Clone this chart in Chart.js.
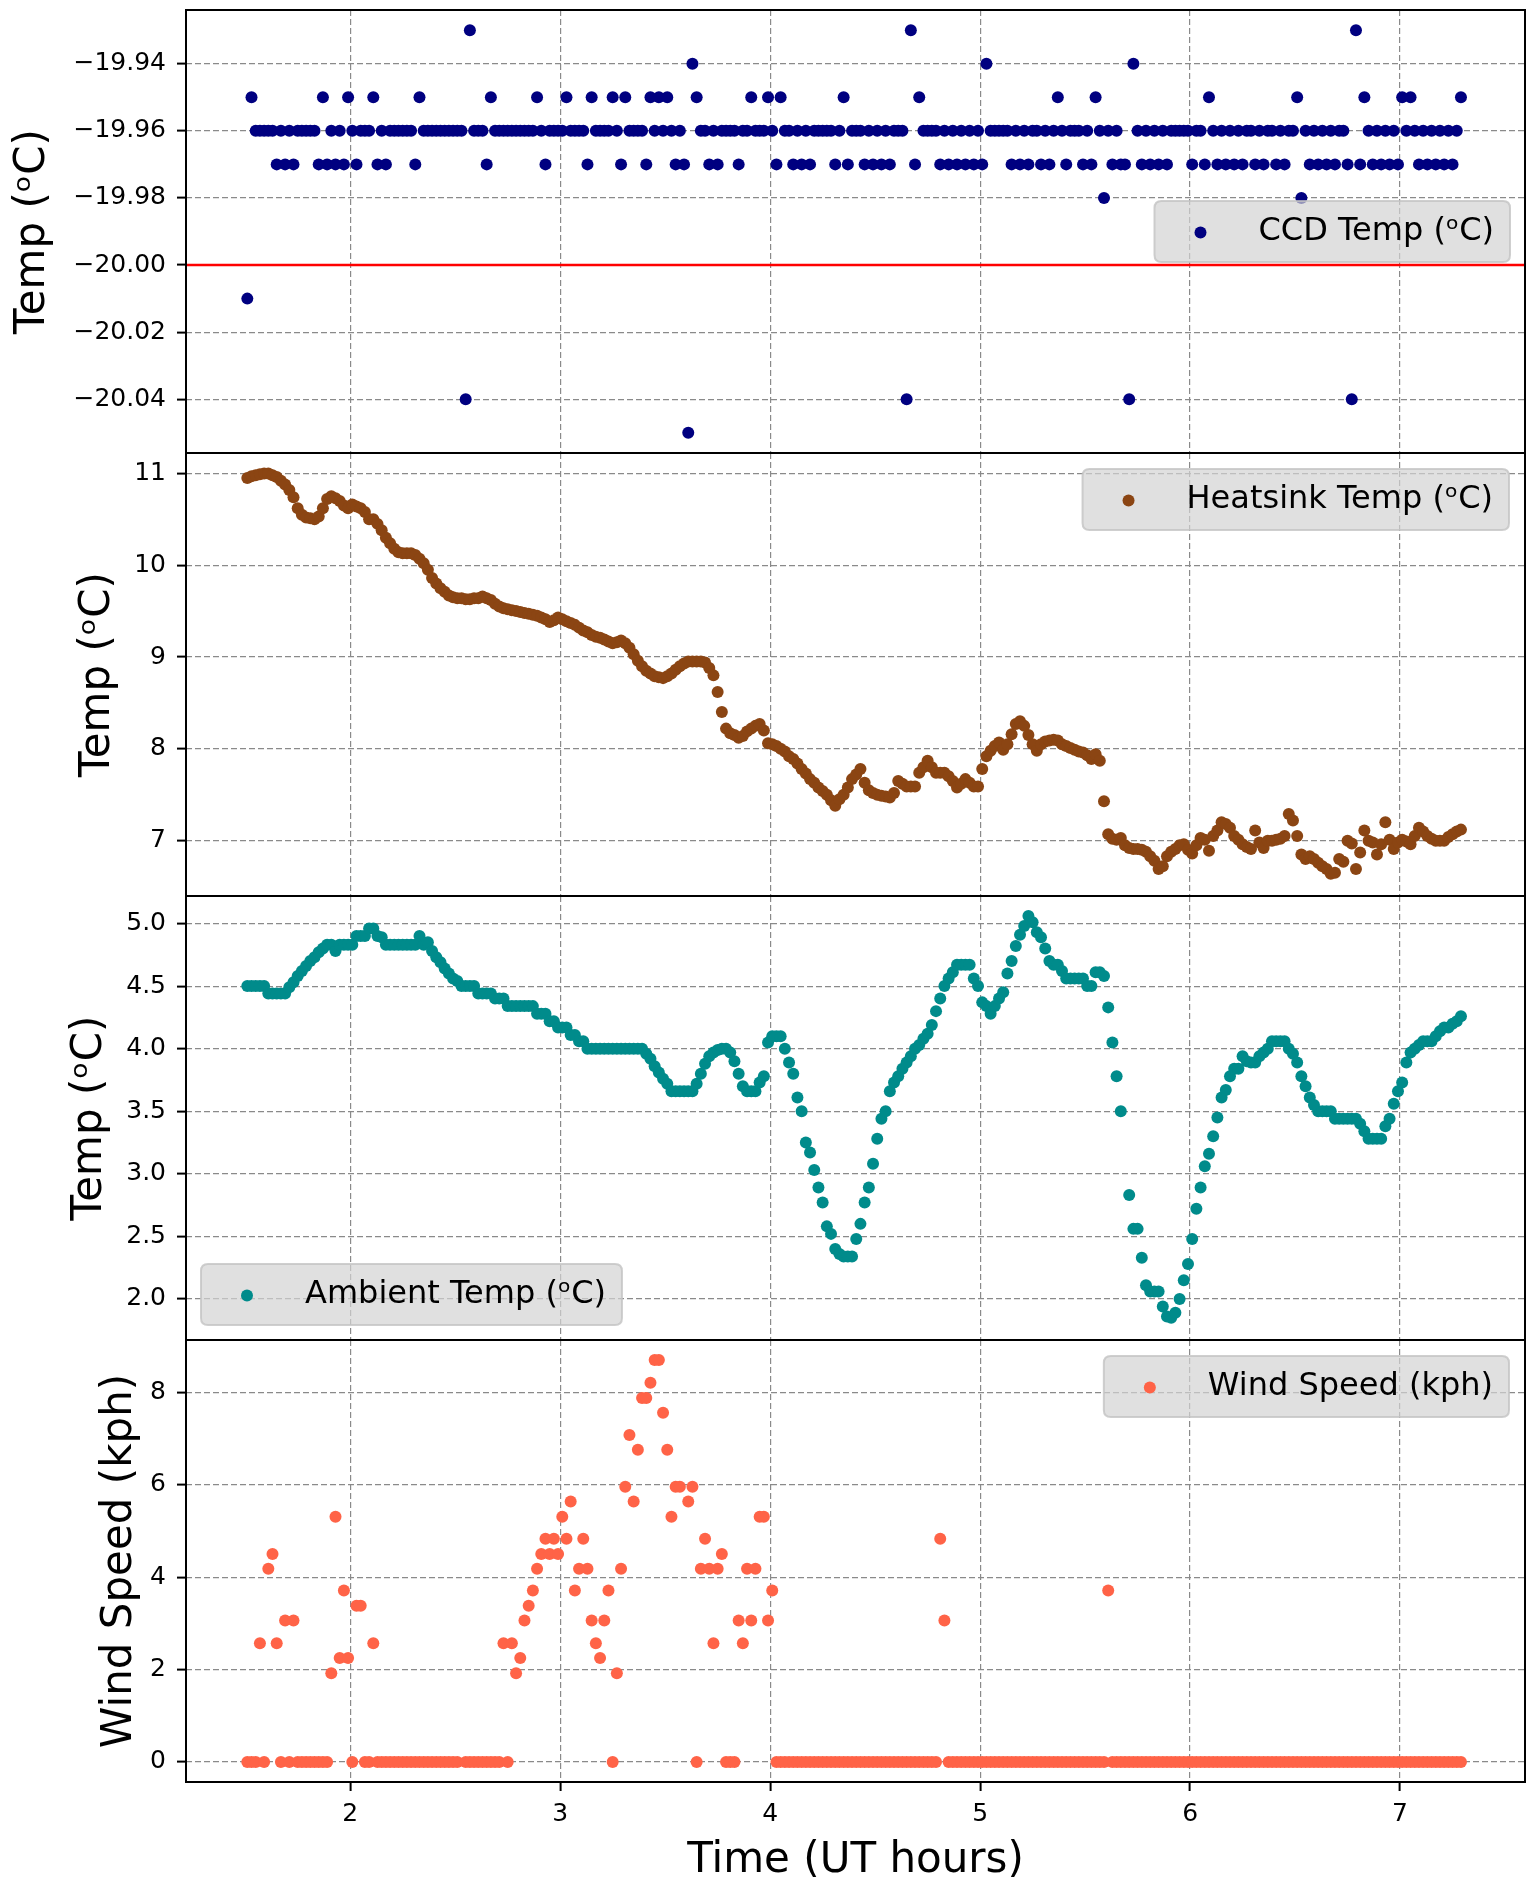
<!DOCTYPE html>
<html><head><meta charset="utf-8">
<script src="https://cdn.jsdelivr.net/npm/chart.js@4.4.1/dist/chart.umd.min.js"></script>
<style>
html,body{margin:0;padding:0;background:#fff;}
#wrap{position:relative;width:1534px;height:1881px;overflow:hidden;background:#fff;}
#wrap canvas{position:absolute;left:0;}
</style></head><body>
<div id="wrap">
<canvas id="c1" width="1534" height="453" style="top:0px"></canvas>
<canvas id="c2" width="1534" height="443" style="top:453px"></canvas>
<canvas id="c3" width="1534" height="444" style="top:896px"></canvas>
<canvas id="c4" width="1534" height="541" style="top:1340px"></canvas>
</div>
<script>
// ---- data (time in UT hours) ----
const times = [
1.51,1.53,1.55,1.57,1.59,1.61,1.63,1.65,1.67,1.69,
1.71,1.73,1.75,1.77,1.79,1.81,1.83,1.85,1.87,1.89,
1.91,1.93,1.95,1.97,1.99,2.01,2.03,2.05,2.07,2.09,
2.11,2.13,2.15,2.17,2.19,2.21,2.23,2.25,2.27,2.29,
2.31,2.33,2.35,2.37,2.39,2.41,2.43,2.45,2.47,2.49,
2.51,2.53,2.55,2.57,2.59,2.61,2.63,2.65,2.67,2.69,
2.71,2.73,2.75,2.77,2.79,2.81,2.83,2.85,2.87,2.89,
2.91,2.93,2.95,2.97,2.99,3.01,3.03,3.05,3.07,3.09,
3.11,3.13,3.15,3.17,3.19,3.21,3.23,3.25,3.27,3.29,
3.31,3.33,3.35,3.37,3.39,3.41,3.43,3.45,3.47,3.49,
3.51,3.53,3.55,3.57,3.59,3.61,3.63,3.65,3.67,3.69,
3.71,3.73,3.75,3.77,3.79,3.81,3.83,3.85,3.87,3.89,
3.91,3.93,3.95,3.97,3.99,4.01,4.03,4.05,4.07,4.09,
4.11,4.13,4.15,4.17,4.19,4.21,4.23,4.25,4.27,4.29,
4.31,4.33,4.35,4.37,4.39,4.41,4.43,4.45,4.47,4.49,
4.51,4.53,4.55,4.57,4.59,4.61,4.63,4.65,4.67,4.69,
4.71,4.73,4.75,4.77,4.79,4.81,4.83,4.85,4.87,4.89,
4.91,4.93,4.95,4.97,4.99,5.01,5.03,5.05,5.07,5.09,
5.11,5.13,5.15,5.17,5.19,5.21,5.23,5.25,5.27,5.29,
5.31,5.33,5.35,5.37,5.39,5.41,5.43,5.45,5.47,5.49,
5.51,5.53,5.55,5.57,5.59,5.61,5.63,5.65,5.67,5.69,
5.71,5.73,5.75,5.77,5.79,5.81,5.83,5.85,5.87,5.89,
5.91,5.93,5.95,5.97,5.99,6.01,6.03,6.05,6.07,6.09,
6.11,6.13,6.15,6.17,6.19,6.21,6.23,6.25,6.27,6.29,
6.31,6.33,6.35,6.37,6.39,6.41,6.43,6.45,6.47,6.49,
6.51,6.53,6.55,6.57,6.59,6.61,6.63,6.65,6.67,6.69,
6.71,6.73,6.75,6.77,6.79,6.81,6.83,6.85,6.87,6.89,
6.91,6.93,6.95,6.97,6.99,7.01,7.03,7.05,7.07,7.09,
7.11,7.13,7.15,7.17,7.19,7.21,7.23,7.25,7.27,7.29
];

const ccdTemp = [
-20.01,-19.95,-19.96,-19.96,-19.96,-19.96,-19.96,-19.97,-19.96,-19.97,
-19.96,-19.97,-19.96,-19.96,-19.96,-19.96,-19.96,-19.97,-19.95,-19.97,
-19.96,-19.97,-19.96,-19.97,-19.95,-19.96,-19.97,-19.96,-19.96,-19.96,
-19.95,-19.97,-19.96,-19.97,-19.96,-19.96,-19.96,-19.96,-19.96,-19.96,
-19.97,-19.95,-19.96,-19.96,-19.96,-19.96,-19.96,-19.96,-19.96,-19.96,
-19.96,-19.96,-20.04,-19.93,-19.96,-19.96,-19.96,-19.97,-19.95,-19.96,
-19.96,-19.96,-19.96,-19.96,-19.96,-19.96,-19.96,-19.96,-19.96,-19.95,
-19.96,-19.97,-19.96,-19.96,-19.96,-19.96,-19.95,-19.96,-19.96,-19.96,
-19.96,-19.97,-19.95,-19.96,-19.96,-19.96,-19.96,-19.95,-19.96,-19.97,
-19.95,-19.96,-19.96,-19.96,-19.96,-19.97,-19.95,-19.96,-19.95,-19.96,
-19.95,-19.96,-19.97,-19.96,-19.97,-20.05,-19.94,-19.95,-19.96,-19.96,
-19.97,-19.96,-19.97,-19.96,-19.96,-19.96,-19.96,-19.97,-19.96,-19.96,
-19.95,-19.96,-19.96,-19.96,-19.95,-19.96,-19.97,-19.95,-19.96,-19.96,
-19.97,-19.96,-19.97,-19.96,-19.97,-19.96,-19.96,-19.96,-19.96,-19.96,
-19.97,-19.96,-19.95,-19.97,-19.96,-19.96,-19.96,-19.97,-19.96,-19.97,
-19.96,-19.97,-19.96,-19.97,-19.96,-19.96,-19.96,-20.04,-19.93,-19.97,
-19.95,-19.96,-19.96,-19.96,-19.96,-19.97,-19.96,-19.97,-19.96,-19.97,
-19.96,-19.97,-19.96,-19.97,-19.96,-19.97,-19.94,-19.96,-19.96,-19.96,
-19.96,-19.96,-19.97,-19.96,-19.97,-19.96,-19.97,-19.96,-19.96,-19.97,
-19.96,-19.97,-19.96,-19.95,-19.96,-19.97,-19.96,-19.96,-19.96,-19.97,
-19.96,-19.97,-19.95,-19.96,-19.98,-19.96,-19.97,-19.96,-19.97,-19.97,
-20.04,-19.94,-19.96,-19.97,-19.96,-19.97,-19.96,-19.97,-19.96,-19.97,
-19.96,-19.96,-19.96,-19.96,-19.96,-19.97,-19.96,-19.96,-19.97,-19.95,
-19.96,-19.97,-19.96,-19.97,-19.96,-19.97,-19.96,-19.97,-19.96,-19.96,
-19.97,-19.96,-19.97,-19.96,-19.96,-19.97,-19.96,-19.97,-19.96,-19.96,
-19.95,-19.98,-19.96,-19.97,-19.96,-19.97,-19.96,-19.97,-19.96,-19.97,
-19.96,-19.96,-19.97,-20.04,-19.93,-19.97,-19.95,-19.96,-19.97,-19.96,
-19.97,-19.96,-19.97,-19.96,-19.97,-19.95,-19.96,-19.95,-19.96,-19.97,
-19.96,-19.97,-19.96,-19.97,-19.96,-19.97,-19.96,-19.97,-19.96,-19.95
];

const heatsinkTemp = [
10.95,10.97,10.98,10.99,11.00,11.00,10.98,10.96,10.92,10.88,
10.82,10.74,10.62,10.55,10.52,10.51,10.50,10.53,10.62,10.72,
10.75,10.73,10.70,10.65,10.62,10.66,10.64,10.62,10.58,10.50,
10.50,10.45,10.38,10.30,10.24,10.18,10.14,10.13,10.13,10.13,
10.11,10.07,10.02,9.95,9.86,9.80,9.75,9.71,9.67,9.65,
9.64,9.64,9.63,9.63,9.64,9.64,9.66,9.64,9.62,9.58,
9.55,9.53,9.52,9.51,9.50,9.49,9.48,9.47,9.46,9.45,
9.43,9.41,9.38,9.40,9.43,9.41,9.39,9.37,9.35,9.32,
9.29,9.27,9.24,9.22,9.21,9.19,9.17,9.15,9.16,9.18,
9.15,9.10,9.03,8.96,8.90,8.85,8.82,8.79,8.78,8.77,
8.79,8.82,8.86,8.90,8.93,8.95,8.95,8.95,8.95,8.94,
8.88,8.80,8.62,8.40,8.22,8.17,8.15,8.12,8.14,8.19,
8.22,8.25,8.27,8.20,8.06,8.05,8.03,8.00,7.97,7.92,
7.89,7.84,7.78,7.73,7.67,7.63,7.58,7.54,7.50,7.44,
7.38,7.45,7.50,7.58,7.67,7.72,7.78,7.63,7.55,7.52,
7.50,7.49,7.48,7.47,7.52,7.65,7.62,7.59,7.59,7.59,
7.74,7.80,7.87,7.80,7.74,7.74,7.74,7.70,7.65,7.58,
7.62,7.67,7.63,7.59,7.59,7.78,7.92,7.98,8.03,8.07,
7.99,8.05,8.16,8.27,8.30,8.25,8.15,8.05,7.98,8.05,
8.08,8.09,8.10,8.09,8.05,8.03,8.01,7.99,7.97,7.96,
7.93,7.89,7.94,7.87,7.43,7.07,7.02,7.01,7.03,6.95,
6.92,6.91,6.91,6.90,6.88,6.83,6.78,6.69,6.72,6.83,
6.88,6.91,6.95,6.96,6.90,6.86,6.95,7.03,7.01,6.89,
7.05,7.11,7.20,7.18,7.14,7.05,7.01,6.96,6.93,6.91,
7.11,6.98,6.92,7.00,7.00,7.01,7.02,7.05,7.29,7.22,
7.05,6.85,6.80,6.83,6.80,6.76,6.72,6.69,6.64,6.65,
6.80,6.77,7.00,6.97,6.69,6.87,7.11,7.00,6.98,6.85,
6.96,7.20,7.01,6.91,6.98,7.01,6.99,6.96,7.05,7.14,
7.10,7.05,7.02,7.00,7.00,7.00,7.04,7.07,7.10,7.12
];

const ambientTemp = [
4.50,4.50,4.50,4.50,4.50,4.44,4.44,4.44,4.44,4.44,
4.49,4.53,4.58,4.62,4.66,4.70,4.73,4.77,4.80,4.83,
4.83,4.78,4.83,4.83,4.83,4.83,4.90,4.90,4.90,4.96,
4.96,4.90,4.89,4.83,4.83,4.83,4.83,4.83,4.83,4.83,
4.83,4.90,4.83,4.85,4.78,4.73,4.69,4.64,4.60,4.56,
4.54,4.50,4.50,4.50,4.50,4.44,4.44,4.44,4.44,4.40,
4.40,4.40,4.34,4.34,4.34,4.34,4.34,4.34,4.34,4.28,
4.28,4.28,4.22,4.22,4.17,4.17,4.17,4.11,4.11,4.06,
4.06,4.00,4.00,4.00,4.00,4.00,4.00,4.00,4.00,4.00,
4.00,4.00,4.00,4.00,4.00,3.96,3.92,3.86,3.81,3.76,
3.72,3.66,3.66,3.66,3.66,3.66,3.66,3.72,3.80,3.88,
3.94,3.97,3.99,4.00,4.00,3.97,3.90,3.80,3.70,3.66,
3.66,3.66,3.73,3.78,4.05,4.10,4.10,4.10,4.00,3.89,
3.80,3.61,3.50,3.25,3.17,3.03,2.89,2.77,2.58,2.52,
2.40,2.36,2.34,2.34,2.34,2.48,2.60,2.77,2.89,3.08,
3.28,3.44,3.50,3.66,3.73,3.78,3.84,3.89,3.94,4.00,
4.03,4.08,4.12,4.19,4.30,4.40,4.50,4.56,4.61,4.67,
4.67,4.67,4.67,4.56,4.50,4.37,4.34,4.28,4.34,4.40,
4.45,4.60,4.70,4.82,4.91,4.98,5.06,5.01,4.93,4.89,
4.80,4.70,4.67,4.67,4.62,4.56,4.56,4.56,4.56,4.56,
4.50,4.50,4.61,4.61,4.58,4.33,4.05,3.78,3.50,null,
2.83,2.56,2.56,2.33,2.11,2.06,2.06,2.06,1.94,1.86,
1.85,1.89,2.00,2.15,2.28,2.48,2.72,2.89,3.06,3.16,
3.30,3.45,3.61,3.67,3.78,3.84,3.84,3.94,3.90,3.89,
3.89,3.94,3.97,4.00,4.06,4.06,4.06,4.06,4.00,3.96,
3.89,3.78,3.70,3.61,3.55,3.50,3.50,3.50,3.50,3.44,
3.44,3.44,3.44,3.44,3.44,3.40,3.34,3.28,3.28,3.28,
3.28,3.38,3.44,3.56,3.66,3.73,3.89,3.97,4.00,4.03,
4.06,4.06,4.06,4.10,4.14,4.17,4.17,4.20,4.22,4.26
];

const windSpeed = [
0,0,0,2.57,0,4.18,4.50,2.57,0,3.06,
0,3.06,0,0,0,0,0,0,0,0,
1.92,5.31,2.25,3.71,2.25,0,3.38,3.38,0,0,
2.57,0,0,0,0,0,0,0,0,0,
0,0,0,0,0,0,0,0,0,0,
0,null,0,0,0,0,0,0,0,0,
0,2.57,0,2.57,1.92,2.25,3.06,3.38,3.71,4.18,
4.50,4.83,4.50,4.83,4.50,5.31,4.83,5.64,3.71,4.18,
4.83,4.18,3.06,2.57,2.25,3.06,3.71,0,1.92,4.18,
5.96,7.08,5.64,6.76,7.88,7.88,8.21,8.70,8.70,7.56,
6.76,5.31,5.96,5.96,null,5.64,5.96,0,4.18,4.83,
4.18,2.57,4.18,4.50,0,0,0,3.06,2.57,4.18,
3.06,4.18,5.31,5.31,3.06,3.71,0,0,0,0,
0,0,0,0,0,0,0,0,0,0,
0,0,0,0,0,0,0,0,0,0,
0,0,0,0,0,0,0,0,0,0,
0,0,0,0,0,4.83,3.06,0,0,0,
0,0,0,0,0,0,0,0,0,0,
0,0,0,0,0,0,0,0,0,0,
0,0,0,0,0,0,0,0,0,0,
0,0,0,0,0,3.71,0,0,0,0,
0,0,0,0,0,0,0,0,0,0,
0,0,0,0,0,0,0,0,0,0,
0,0,0,0,0,0,0,0,0,0,
0,0,0,0,0,0,0,0,0,0,
0,0,0,0,0,0,0,0,0,0,
0,0,0,0,0,0,0,0,0,0,
0,0,0,0,0,0,0,0,0,0,
0,0,0,0,0,0,0,0,0,0
];

const ccdSetpoint = -20.00;
const xTicks = [2, 3, 4, 5, 6, 7];
const ccdTicks = [-20.04, -20.02, -20.00, -19.98, -19.96, -19.94];
const heatsinkTicks = [7, 8, 9, 10, 11];
const ambientTicks = [2.0, 2.5, 3.0, 3.5, 4.0, 4.5, 5.0];
const windTicks = [0, 2, 4, 6, 8];

const FONT = "'DejaVu Sans', 'Noto Sans', sans-serif";
const GRID = '#8a8a8a';

const framePlugin = {
  id: 'frame',
  beforeDatasetsDraw(chart, args, opts) {
    if (opts.refLine == null) return;
    const a = chart.chartArea, ctx = chart.ctx;
    const y = chart.scales.y.getPixelForValue(opts.refLine);
    ctx.save();
    ctx.strokeStyle = '#ff0000';
    ctx.lineWidth = 2.5;
    ctx.beginPath(); ctx.moveTo(a.left, y); ctx.lineTo(a.right, y); ctx.stroke();
    ctx.restore();
  },
  afterDatasetsDraw(chart, args, opts) {
    const a = chart.chartArea, ctx = chart.ctx;
    ctx.save();
    // legend box
    ctx.font = '32px ' + FONT;
    const tw = ctx.measureText(opts.label).width;
    const w = 104 + tw + 16, h = 61;
    let x, y;
    if (opts.pos === 'center right') { x = a.right - 15 - w; y = (a.top + a.bottom) / 2 - h / 2; }
    else if (opts.pos === 'lower left') { x = a.left + 15; y = a.bottom - 15 - h; }
    else { x = a.right - 16 - w; y = a.top + 16; }
    const r = 7;
    ctx.beginPath();
    ctx.moveTo(x + r, y); ctx.lineTo(x + w - r, y); ctx.quadraticCurveTo(x + w, y, x + w, y + r);
    ctx.lineTo(x + w, y + h - r); ctx.quadraticCurveTo(x + w, y + h, x + w - r, y + h);
    ctx.lineTo(x + r, y + h); ctx.quadraticCurveTo(x, y + h, x, y + h - r);
    ctx.lineTo(x, y + r); ctx.quadraticCurveTo(x, y, x + r, y); ctx.closePath();
    ctx.fillStyle = 'rgba(211,211,211,0.7)';
    ctx.fill();
    ctx.strokeStyle = 'rgba(195,195,195,0.8)';
    ctx.lineWidth = 2;
    ctx.stroke();
    ctx.fillStyle = opts.color;
    ctx.beginPath(); ctx.arc(x + 46, y + h / 2 + 1, 6, 0, Math.PI * 2); ctx.fill();
    ctx.fillStyle = '#000';
    ctx.textBaseline = 'middle';
    ctx.textAlign = 'left';
    ctx.fillText(opts.label, x + 104, y + h / 2);
    // axes frame
    ctx.strokeStyle = '#000';
    ctx.lineWidth = 2;
    ctx.strokeRect(a.left, a.top, a.right - a.left, a.bottom - a.top);
    ctx.restore();
  }
};

function makeChart(id, cfg) {
  return new Chart(document.getElementById(id), {
    type: 'scatter',
    data: {
      datasets: [{
        label: cfg.legend,
        data: times.map((t, i) => ({ x: t, y: cfg.values[i] })),
        backgroundColor: cfg.color,
        borderColor: cfg.color,
        borderWidth: 0,
        pointRadius: 6,
        pointHoverRadius: 6
      }]
    },
    options: {
      responsive: false,
      animation: false,
      events: [],
      layout: { autoPadding: false, padding: { top: cfg.padTop, right: 9, bottom: 0, left: 0 } },
      plugins: {
        legend: { display: false },
        tooltip: { enabled: false },
        frame: { label: cfg.legend, color: cfg.color, pos: cfg.legendPos, refLine: cfg.refLine }
      },
      scales: {
        x: {
          type: 'linear', position: 'bottom', min: 1.218, max: 7.595,
          afterBuildTicks: s => { s.ticks = xTicks.map(v => ({ value: v })); },
          afterFit: s => { s.height = cfg.xHeight; s.paddingLeft = 0; s.paddingRight = 0; },
          grid: { color: GRID, lineWidth: 1.2, drawTicks: cfg.showX, tickLength: 9, tickColor: '#000', tickWidth: 2, tickBorderDash: [] },
          border: { display: false, dash: [6, 3] },
          ticks: { display: cfg.showX, color: '#000', font: { family: FONT, size: 25 }, padding: 8, maxRotation: 0, autoSkip: false,
                   callback: v => String(v) },
          title: { display: cfg.showX, text: 'Time (UT hours)', color: '#000', font: { family: FONT, size: 42 }, padding: { top: 0, bottom: -5 } }
        },
        y: {
          type: 'linear', position: 'left', min: cfg.yMin, max: cfg.yMax,
          afterBuildTicks: s => { s.ticks = cfg.ticks.map(v => ({ value: v })); },
          afterFit: s => { s.width = 186; s.paddingTop = 0; s.paddingBottom = 0; },
          grid: { color: GRID, lineWidth: 1.2, drawTicks: true, tickLength: 9, tickColor: '#000', tickWidth: 2, tickBorderDash: [] },
          border: { display: false, dash: [6, 3] },
          ticks: { color: '#000', font: { family: FONT, size: 25 }, padding: 11, autoSkip: false,
                   callback: v => v.toFixed(cfg.decimals).replace('-', '\u2212') },
          title: { display: true, text: cfg.yTitle, color: '#000', font: { family: FONT, size: 42 }, padding: { top: cfg.titlePad, bottom: 0 } }
        }
      }
    },
    plugins: [framePlugin]
  });
}

makeChart('c1', { values: ccdTemp, color: '#000080', legend: 'CCD Temp (\u1D52C)', legendPos: 'center right',
  refLine: ccdSetpoint, yMin: -20.056, yMax: -19.924, ticks: ccdTicks, decimals: 2,
  yTitle: 'Temp (\u1D52C)', titlePad: 8, padTop: 10, xHeight: 0, showX: false });
makeChart('c2', { values: heatsinkTemp, color: '#8B4513', legend: 'Heatsink Temp (\u1D52C)', legendPos: 'upper right',
  refLine: null, yMin: 6.397, yMax: 11.222, ticks: heatsinkTicks, decimals: 0,
  yTitle: 'Temp (\u1D52C)', titlePad: 73, padTop: 0, xHeight: 0, showX: false });
makeChart('c3', { values: ambientTemp, color: '#008B8B', legend: 'Ambient Temp (\u1D52C)', legendPos: 'lower left',
  refLine: null, yMin: 1.672, yMax: 5.22, ticks: ambientTicks, decimals: 1,
  yTitle: 'Temp (\u1D52C)', titlePad: 65, padTop: 0, xHeight: 0, showX: false });
makeChart('c4', { values: windSpeed, color: '#FF6347', legend: 'Wind Speed (kph)', legendPos: 'upper right',
  refLine: null, yMin: -0.435, yMax: 9.135, ticks: windTicks, decimals: 0,
  yTitle: 'Wind Speed (kph)', titlePad: 95, padTop: 0, xHeight: 99, showX: true });
</script>
</body></html>
